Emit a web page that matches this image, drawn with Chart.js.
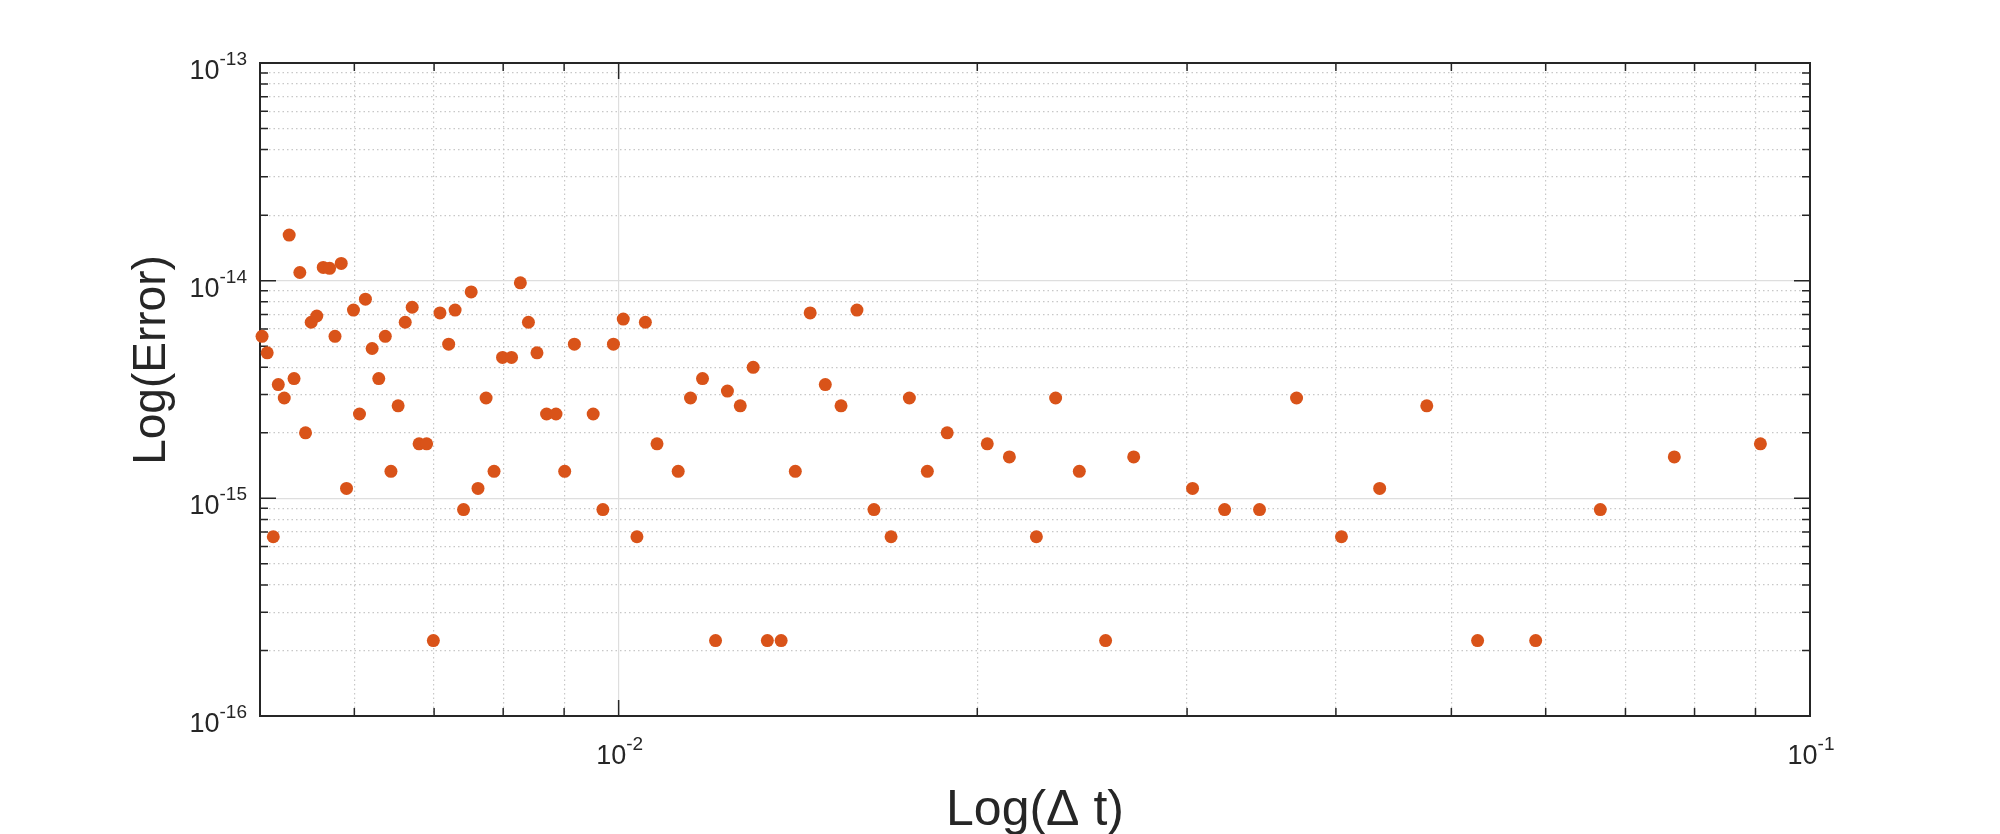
<!DOCTYPE html>
<html>
<head>
<meta charset="utf-8">
<script src="https://cdn.jsdelivr.net/npm/chart.js@4.4.0/dist/chart.umd.min.js"></script>
<style>
  html, body { margin: 0; padding: 0; background: #fff; }
  #wrap { width: 2000px; height: 834px; }
</style>
</head>
<body>
<div id="wrap"><canvas id="myChart"></canvas></div>
<script>
const chart = document.getElementById("myChart");

// step sizes (Delta t) and errors
const dt = [
  0.00502, 0.00507, 0.00513, 0.00518, 0.00524, 0.00529, 0.00534, 0.00540, 0.00546, 0.00552,
  0.00558, 0.00565, 0.00572, 0.00578, 0.00585, 0.00591, 0.00599, 0.00606, 0.00613, 0.00621,
  0.00629, 0.00637, 0.00644, 0.00653, 0.00662, 0.00671, 0.00680, 0.00690, 0.00699, 0.00708,
  0.00720, 0.00729, 0.00741, 0.00752, 0.00762, 0.00774, 0.00786, 0.00799, 0.00813, 0.00827,
  0.00840, 0.00854, 0.00870, 0.00886, 0.00901, 0.00918, 0.00952, 0.00970, 0.00990, 0.01009,
  0.01036, 0.01053, 0.01077, 0.01122, 0.01149, 0.01176, 0.01206, 0.01234, 0.01265, 0.01297,
  0.01333, 0.01369, 0.01407, 0.01448, 0.01491, 0.01537, 0.01585, 0.01638, 0.01693, 0.01754,
  0.01816, 0.01887, 0.02039, 0.02128, 0.02242, 0.02327, 0.02436, 0.02563, 0.02706, 0.03032,
  0.03226, 0.03451, 0.03707, 0.04043, 0.04353, 0.04768, 0.05260, 0.05885, 0.06668, 0.07693,
  0.09086
];
const err = [
  5.55e-15, 4.66e-15, 6.66e-16, 3.33e-15, 2.89e-15, 1.62e-14, 3.55e-15, 1.09e-14, 2.00e-15, 6.44e-15,
  6.88e-15, 1.15e-14, 1.14e-14, 5.55e-15, 1.20e-14, 1.11e-15, 7.33e-15, 2.44e-15, 8.22e-15, 4.88e-15,
  3.55e-15, 5.55e-15, 1.33e-15, 2.66e-15, 6.44e-15, 7.55e-15, 1.78e-15, 1.78e-15, 2.22e-16, 7.11e-15,
  5.11e-15, 7.33e-15, 8.88e-16, 8.88e-15, 1.11e-15, 2.89e-15, 1.33e-15, 4.44e-15, 4.44e-15, 9.77e-15,
  6.44e-15, 4.66e-15, 2.44e-15, 2.44e-15, 1.33e-15, 5.11e-15, 2.44e-15, 8.88e-16, 5.11e-15, 6.66e-15,
  6.66e-16, 6.44e-15, 1.78e-15, 1.33e-15, 2.89e-15, 3.55e-15, 2.22e-16, 3.11e-15, 2.66e-15, 4.00e-15,
  2.22e-16, 2.22e-16, 1.33e-15, 7.11e-15, 3.33e-15, 2.66e-15, 7.33e-15, 8.88e-16, 6.66e-16, 2.89e-15,
  1.33e-15, 2.00e-15, 1.78e-15, 1.55e-15, 6.66e-16, 2.89e-15, 1.33e-15, 2.22e-16, 1.55e-15, 1.11e-15,
  8.88e-16, 8.88e-16, 2.89e-15, 6.66e-16, 1.11e-15, 2.66e-15, 2.22e-16, 2.22e-16, 8.88e-16, 1.55e-15,
  1.78e-15
];

// grid / tick positions and decade labels (10 with a raised exponent)
const xTicks = [0.005, 0.006, 0.007, 0.008, 0.009, 0.01, 0.02, 0.03, 0.04, 0.05, 0.06, 0.07, 0.08, 0.09, 0.1];
const yTicks = [
  1e-16, 2e-16, 3e-16, 4e-16, 5e-16, 6e-16, 7e-16, 8e-16, 9e-16,
  1e-15, 2e-15, 3e-15, 4e-15, 5e-15, 6e-15, 7e-15, 8e-15, 9e-15,
  1e-14, 2e-14, 3e-14, 4e-14, 5e-14, 6e-14, 7e-14, 8e-14, 9e-14, 1e-13
];
const xMajor = [0.01, 0.1];
const xMajorExp = ["-2", "-1"];
const yMajor = [1e-16, 1e-15, 1e-14, 1e-13];
const yMajorExp = ["-16", "-15", "-14", "-13"];
const xTitle = "Log(\u0394 t)";
const yTitle = "Log(Error)";

const FONT = "'Liberation Sans', Arial, Helvetica, sans-serif";
const INK = "#262626";

function isMajor(v) {
  const l = Math.log10(v);
  return Math.abs(l - Math.round(l)) < 1e-6;
}

const gridColor = (ctx) => (ctx.tick && isMajor(ctx.tick.value) ? "#dedede" : "#c8c8c8");
const gridDash = (ctx) => (ctx.tick && !isMajor(ctx.tick.value) ? [1.5, 3] : []);

// matlab style box with inward ticks on all four sides
const boxTicks = {
  id: "boxTicks",
  beforeDatasetsDraw(c) {
    const { ctx, chartArea: a, scales } = c;
    ctx.save();
    ctx.strokeStyle = INK;
    ctx.lineWidth = 1.5;
    ctx.beginPath();
    scales.x.ticks.forEach((t) => {
      const px = scales.x.getPixelForValue(t.value);
      const len = isMajor(t.value) ? 16 : 8;
      ctx.moveTo(px, a.bottom); ctx.lineTo(px, a.bottom - len);
      ctx.moveTo(px, a.top); ctx.lineTo(px, a.top + len);
    });
    scales.y.ticks.forEach((t) => {
      const py = scales.y.getPixelForValue(t.value);
      const len = isMajor(t.value) ? 16 : 8;
      ctx.moveTo(a.left, py); ctx.lineTo(a.left + len, py);
      ctx.moveTo(a.right, py); ctx.lineTo(a.right - len, py);
    });
    ctx.stroke();
    ctx.lineWidth = 2;
    ctx.strokeRect(a.left, a.top, a.right - a.left, a.bottom - a.top);
    ctx.restore();
  },
  afterDraw(c) {
    const { ctx, chartArea: a, scales } = c;
    const base = "27px " + FONT, sup = "19px " + FONT;
    ctx.save();
    ctx.fillStyle = INK;
    ctx.textBaseline = "alphabetic";
    ctx.textAlign = "left";
    xMajor.forEach((v, i) => {
      const px = scales.x.getPixelForValue(v);
      ctx.font = base; const w1 = ctx.measureText("10").width;
      ctx.font = sup; const w2 = ctx.measureText(xMajorExp[i]).width;
      const x0 = px - (w1 + w2) / 2 + 1;
      ctx.font = base; ctx.fillText("10", x0, a.bottom + 48);
      ctx.font = sup; ctx.fillText(xMajorExp[i], x0 + w1, a.bottom + 34);
    });
    ctx.textAlign = "right";
    yMajor.forEach((v, i) => {
      const py = scales.y.getPixelForValue(v);
      ctx.font = sup; const w2 = ctx.measureText(yMajorExp[i]).width;
      ctx.fillText(yMajorExp[i], a.left - 13, py + 2);
      ctx.font = base; ctx.fillText("10", a.left - 13 - w2, py + 16);
    });
    // axis titles
    ctx.font = "50px " + FONT;
    ctx.textAlign = "center";
    ctx.fillText(xTitle, (a.left + a.right) / 2, 825);
    ctx.font = "46px " + FONT;
    ctx.translate(165, 360);
    ctx.rotate(-Math.PI / 2);
    ctx.fillText(yTitle, 0, 0);
    ctx.restore();
  },
};

new Chart(chart, {
  type: "scatter",
  data: {
    datasets: [
      {
        data: dt.map((x, i) => ({ x: x, y: err[i] })),
        backgroundColor: "#D95319",
        borderColor: "#D95319",
        borderWidth: 0,
        pointRadius: 6.5,
        pointHoverRadius: 6.5,
        clip: false,
      },
    ],
  },
  options: {
    responsive: true,
    maintainAspectRatio: false,
    animation: false,
    layout: { padding: { top: 63, right: 190, left: 0, bottom: 0 } },
    scales: {
      x: {
        type: "logarithmic",
        min: 0.005,
        max: 0.1,
        afterBuildTicks: (s) => { s.ticks = xTicks.map((v) => ({ value: v })); },
        afterFit: (s) => { s.height = 118; },
        grid: { color: gridColor, lineWidth: 1.2, drawTicks: false },
        border: { display: false, dash: gridDash },
        ticks: { display: false },
        title: { display: false },
      },
      y: {
        type: "logarithmic",
        min: 1e-16,
        max: 1e-13,
        afterBuildTicks: (s) => { s.ticks = yTicks.map((v) => ({ value: v })); },
        afterFit: (s) => { s.width = 260; },
        grid: { color: gridColor, lineWidth: 1.2, drawTicks: false },
        border: { display: false, dash: gridDash },
        ticks: { display: false },
        title: { display: false },
      },
    },
    plugins: {
      legend: { display: false },
      tooltip: { enabled: false },
    },
  },
  plugins: [boxTicks],
});
</script>
</body>
</html>
